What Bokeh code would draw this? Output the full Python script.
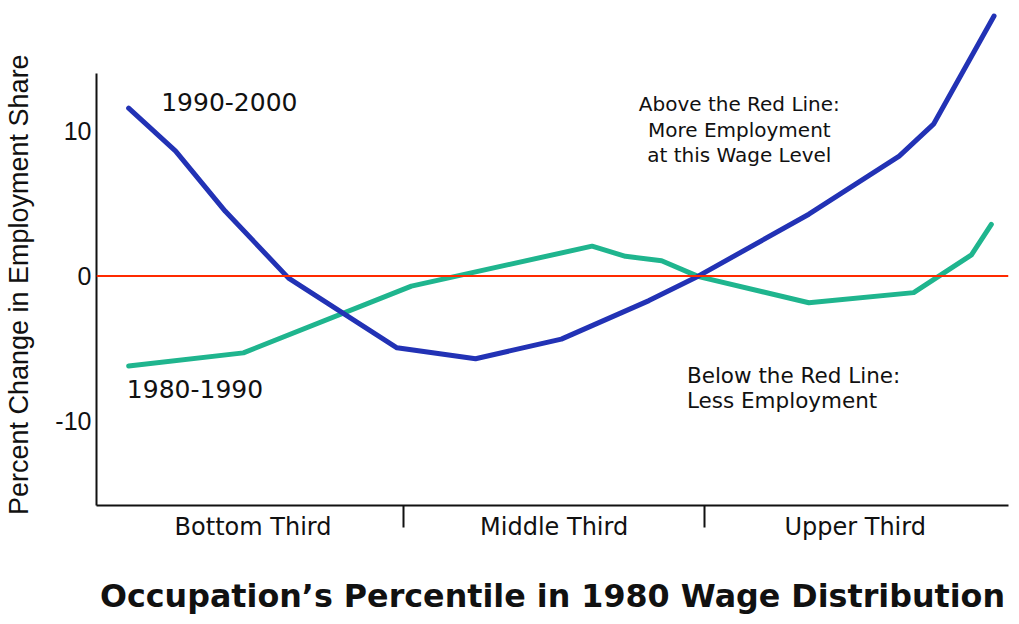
from bokeh.plotting import figure
from bokeh.models import Range1d, FixedTicker, Span
from bokeh.core.properties import value
from bokeh.embed import file_html
from bokeh.resources import INLINE

# ---- data ----
pct_1990_2000 = [2.9, 8.1, 13.6, 20.6, 32.6, 41.3, 50.8, 60.5, 66.0, 78.2, 88.2, 92.0, 98.7]
chg_1990_2000 = [11.55, 8.6, 4.45, -0.15, -4.95, -5.7, -4.35, -1.7, 0.0, 4.25, 8.25, 10.45, 17.9]

pct_1980_1990 = [2.9, 15.6, 34.2, 54.2, 57.9, 61.9, 66.0, 78.2, 89.8, 96.2, 98.4]
chg_1980_1990 = [-6.2, -5.3, -0.7, 2.05, 1.35, 1.05, -0.05, -1.85, -1.15, 1.45, 3.55]

third_names = ["Bottom Third", "Middle Third", "Upper Third"]
third_centers = [16.67, 50.0, 83.33]
third_bounds = [33.33, 66.67]

y_ticks = [-10, 0, 10]
y_tick_labels = ["-10", "0", "10"]

series_labels = ["1990-2000", "1980-1990"]
series_label_x = [6.5, 2.7]
series_label_y = [12.0, -7.8]

above_lines = ["Above the Red Line:", "More Employment", "at this Wage Level"]
above_x = [70.5, 70.5, 70.5]
above_y = [11.82, 10.03, 8.32]

below_lines = ["Below the Red Line:", "Less Employment"]
below_x = [64.7, 64.7]
below_y = [-6.87, -8.59]

title_text = "Occupation\u2019s Percentile in 1980 Wage Distribution"
y_title_text = "Percent Change in Employment Share"

BLUE = "#2232b5"
TEAL = "#1fb58e"
RED = "#ff2a00"

p = figure(width=1009, height=616,
           x_range=Range1d(-0.66, 100.3), y_range=Range1d(-15.81, 18.21),
           output_backend="svg", toolbar_location=None,
           min_border_left=96, min_border_right=1, min_border_top=11, min_border_bottom=110)
p.outline_line_color = None
p.grid.visible = False
p.background_fill_color = "white"
p.border_fill_color = "white"

# y axis
ya = p.yaxis[0]
ya.ticker = FixedTicker(ticks=y_ticks, minor_ticks=[])
ya.major_label_overrides = {t: l for t, l in zip(y_ticks, y_tick_labels)}
ya.bounds = (-15.81, 13.95)
ya.axis_line_width = 2
ya.axis_line_color = "#111111"
ya.major_tick_in = 0
ya.major_tick_out = 0
ya.minor_tick_in = 0
ya.minor_tick_out = 0
ya.major_label_standoff = 5
ya.major_label_text_font = "Liberation Sans"
ya.major_label_text_font_size = "25px"
ya.major_label_text_color = "#111111"
# trailing no-break spaces shift the visible text so it centres on the drawn spine
ya.axis_label = y_title_text + "\u00a0" * 7
ya.axis_label_text_font = "Liberation Sans"
ya.axis_label_text_font_size = "27px"
ya.axis_label_text_font_style = "normal"
ya.axis_label_text_color = "#111111"
ya.axis_label_standoff = 18

# x axis
xa = p.xaxis[0]
xa.ticker = FixedTicker(ticks=third_centers, minor_ticks=third_bounds)
xa.major_label_overrides = {t: l for t, l in zip(third_centers, third_names)}
xa.axis_line_width = 2
xa.axis_line_color = "#111111"
xa.major_tick_in = 0
xa.major_tick_out = 0
xa.minor_tick_in = 0
xa.minor_tick_out = 22
xa.minor_tick_line_width = 2
xa.minor_tick_line_color = "#111111"
xa.major_label_standoff = -15
xa.major_label_text_font = "DejaVu Sans"
xa.major_label_text_font_size = "24px"
xa.major_label_text_color = "#111111"
xa.axis_label = title_text
xa.axis_label_text_font = "DejaVu Sans"
xa.axis_label_text_font_size = "31.75px"
xa.axis_label_text_font_style = "bold"
xa.axis_label_text_color = "#111111"
xa.axis_label_standoff = 34

# zero line
p.add_layout(Span(location=0, dimension="width", line_color=RED, line_width=2))

# series
p.line(pct_1980_1990, chg_1980_1990, line_color=TEAL, line_width=5, line_join="round", line_cap="round")
p.line(pct_1990_2000, chg_1990_2000, line_color=BLUE, line_width=5, line_join="round", line_cap="round")

# labels
p.text(series_label_x, series_label_y, text=series_labels, text_font=value("DejaVu Sans"),
       text_font_size="25px", text_baseline="middle", text_align="left", text_color="#111111")
p.text(above_x, above_y, text=above_lines, text_font=value("DejaVu Sans"),
       text_font_size="20px", text_baseline="middle", text_align="center", text_color="#111111")
p.text(below_x, below_y, text=below_lines, text_font=value("DejaVu Sans"),
       text_font_size="21.5px", text_baseline="middle", text_align="left", text_color="#111111")

open("out.html", "w").write(file_html(p, INLINE))
